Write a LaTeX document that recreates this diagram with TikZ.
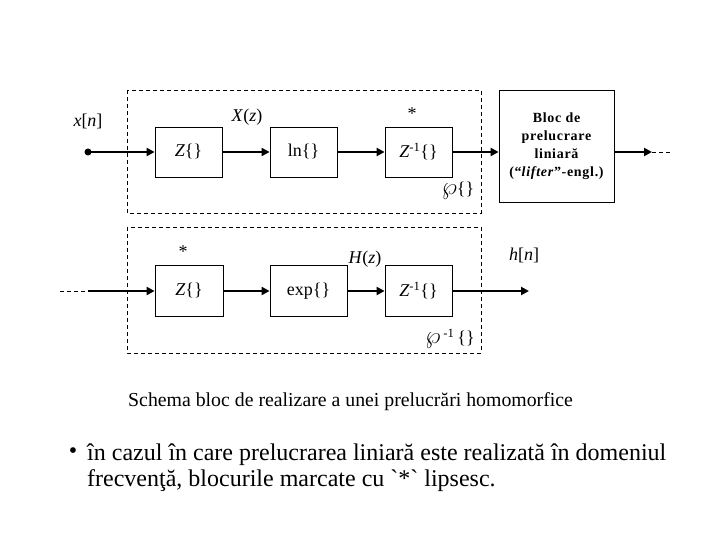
\documentclass[tikz,border=0pt]{standalone}
\usepackage{fontspec}
\setmainfont{Liberation Serif}
\usetikzlibrary{arrows.meta}
\newcommand{\gravemark}{\XeTeXglyph\XeTeXglyphindex "grave" }
\begin{document}
\begin{tikzpicture}[x=1pt,y=-1pt,
  blk/.style={draw,line width=0.8pt,inner sep=0pt,font=\fontsize{18}{20}\selectfont},
  dbox/.style={draw,line width=0.8pt,dash pattern=on 4pt off 3pt},
  sig/.style={line width=2.4pt,-{Triangle[length=8pt,width=8pt]}},
  dsh/.style={line width=0.8pt,dash pattern=on 4pt off 3pt},
  lbl/.style={font=\fontsize{18}{20}\selectfont,inner sep=0pt},
  txt/.style={inner sep=0pt}]
\useasboundingbox (0,0) rectangle (720,540);
\fill[white] (0,0) rectangle (720,540);
% dashed frames
\draw[dbox] (127,90) rectangle (481,213);
\draw[dbox] (127,227) rectangle (481,353);
% top chain
\node[blk,minimum width=67pt,minimum height=50pt] (Z1) at (188.5,152) {\raisebox{4pt}{\textit{Z}\{\}}};
\node[blk,minimum width=67pt,minimum height=50pt] (LN) at (303.5,152) {\raisebox{4pt}{ln\{\}}};
\node[blk,minimum width=67pt,minimum height=50pt] (ZI1) at (418.5,152) {\raisebox{4pt}{\textit{Z}\textsuperscript{-1}\{\}}};
\node[blk,minimum width=115pt,minimum height=112pt,align=center,
  font=\bfseries\fontsize{14}{18}\selectfont\addfontfeature{LetterSpace=5}] (BL) at (556.5,146)
  {Bloc de\\prelucrare\\liniară\\(“\textit{lifter}”-engl.)};
\coordinate (IN) at (88,152);
\coordinate (OT) at (652,152);
\coordinate (OD) at (672,152);
\fill (IN) circle (3.5pt);
\draw[sig] (IN) -- (Z1.west);
\draw[sig] (Z1.east) -- (LN.west);
\draw[sig] (LN.east) -- (ZI1.west);
\draw[sig] (ZI1.east) -- (ZI1.east -| BL.west);
\draw[sig] (BL.east |- OT) -- (OT);
\draw[dsh] (OT) -- (OD);
% bottom chain
\node[blk,minimum width=68pt,minimum height=51pt] (Z2) at (189,291) {\raisebox{4pt}{\textit{Z}\{\}}};
\node[blk,minimum width=77pt,minimum height=51pt] (EX) at (308.5,291) {\raisebox{4pt}{exp\{\}}};
\node[blk,minimum width=67pt,minimum height=51pt] (ZI2) at (418.5,291) {\raisebox{4pt}{\textit{Z}\textsuperscript{-1}\{\}}};
\coordinate (BA) at (60,291);
\coordinate (BB) at (88,291);
\coordinate (BO) at (529,291);
\draw[dsh] (BA) -- (BB);
\draw[sig] (BB) -- (Z2.west);
\draw[sig] (Z2.east) -- (EX.west);
\draw[sig] (EX.east) -- (ZI2.west);
\draw[sig] (ZI2.east) -- (BO);
% labels
\node[lbl] (xn) at (88,121) {\textit{x}[\textit{n}]};
\node[lbl] (Xz) at (247,117) {\textit{X}(\textit{z})};
\node[lbl] (s1) at (412,114) {*};
\node[lbl] (wp1) at (458,191) {\scalebox{1.4}{$\wp$}\{\}};
\node[lbl] (s2) at (183,252) {*};
\node[lbl] (Hz) at (365,259) {\textit{H}(\textit{z})};
\node[lbl] (hn) at (524,255) {\textit{h}[\textit{n}]};
\node[lbl] (wp2) at (450,339) {\scalebox{1.4}{$\wp$}\,\textsuperscript{-1}\,\{\}};
% caption and bullet text
\node[txt,anchor=base west,font=\fontsize{19.8}{22}\selectfont] (cap) at (128,406) {Schema bloc de realizare a unei prelucrări homomorfice};
\node[txt,font=\fontsize{24}{28}\selectfont] (bul) at (73,453) {•};
\node[txt,anchor=base west,font=\fontsize{24}{28}\selectfont] (l1) at (87,460) {în cazul în care prelucrarea liniară este realizată în domeniul};
\node[txt,anchor=base west,font=\fontsize{24}{28}\selectfont] (l2) at (87,486) {frecvenţă, blocurile marcate cu \gravemark*\gravemark\ lipsesc.};
\end{tikzpicture}
\end{document}
